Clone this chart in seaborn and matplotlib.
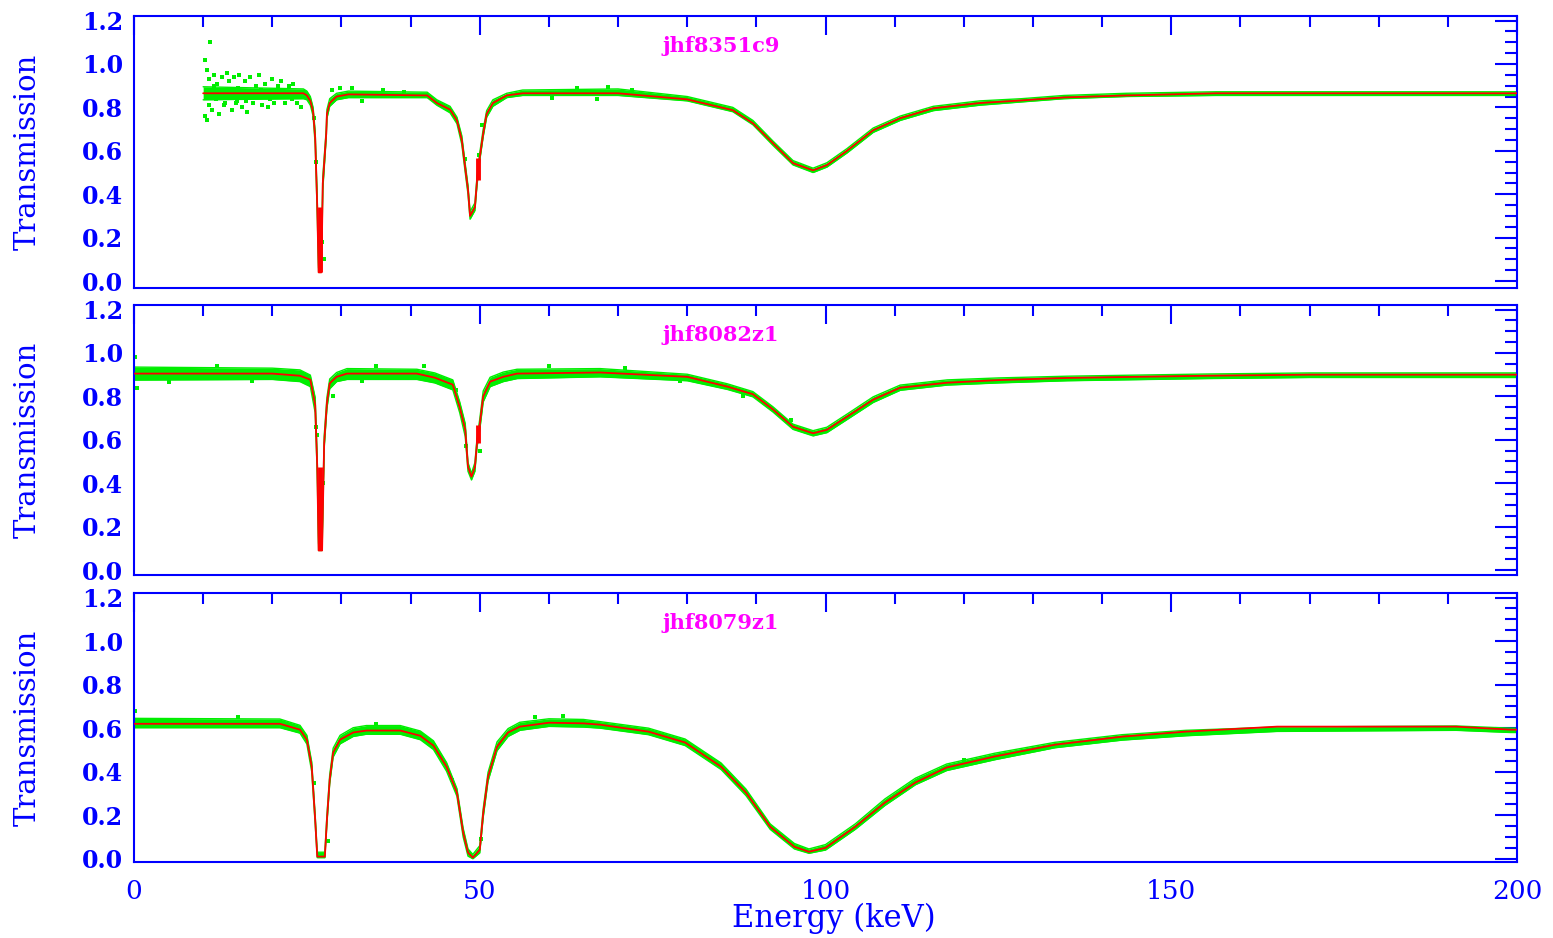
"""Transmission spectra of three samples with fitted curves (three stacked panels)."""

import matplotlib
matplotlib.use("Agg")
import matplotlib.pyplot as plt
from matplotlib.ticker import MultipleLocator
import seaborn as sns

BLUE = "#0000ff"
RED = "#ff0000"
GREEN = "#00ee00"
MAGENTA = "#ff00ff"

# ---- panel 1: jhf8351c9 -------------------------------------------------
name_1 = "jhf8351c9"
fit_e_1 = [10, 24.5, 25.0, 25.5, 25.9, 26.2, 26.5, 26.7, 27.1, 27.3, 27.8, 27.9, 28.3,
           29.3, 31.0, 42.4, 43.8, 45.7, 46.7, 47.4, 47.9, 48.3, 48.6, 49.3, 49.6, 50.0,
           50.5, 51.0, 51.9, 53.9, 56.2, 70.0, 80.0, 86.6, 89.5, 92.4, 95.3, 98.2, 100.2,
           103.1, 106.9, 110.8, 115.6, 122.3, 128.3, 134.5, 143.5, 156.5, 200]
fit_t_1 = [0.865, 0.865, 0.855, 0.83, 0.78, 0.66, 0.34, 0.04, 0.04, 0.45, 0.68, 0.77, 0.82,
           0.85, 0.86, 0.855, 0.82, 0.79, 0.74, 0.65, 0.52, 0.42, 0.30, 0.34, 0.46, 0.57,
           0.68, 0.77, 0.82, 0.855, 0.865, 0.865, 0.837, 0.787, 0.727, 0.635, 0.543, 0.51,
           0.534, 0.60, 0.695, 0.75, 0.796, 0.82, 0.832, 0.846, 0.855, 0.865, 0.865]
data_lo_1 = [0.835, 0.84, 0.835, 0.81, 0.76, 0.63, 0.31, 0.04, 0.04, 0.42, 0.66, 0.75, 0.805,
             0.835, 0.845, 0.845, 0.81, 0.775, 0.725, 0.63, 0.50, 0.40, 0.285, 0.325, 0.44, 0.555,
             0.665, 0.755, 0.805, 0.845, 0.855, 0.855, 0.83, 0.78, 0.72, 0.625, 0.535, 0.50,
             0.525, 0.59, 0.685, 0.74, 0.785, 0.81, 0.825, 0.84, 0.85, 0.855, 0.855]
data_hi_1 = [0.895, 0.885, 0.875, 0.85, 0.80, 0.69, 0.38, 0.06, 0.08, 0.48, 0.70, 0.79, 0.84,
             0.865, 0.875, 0.87, 0.835, 0.805, 0.755, 0.67, 0.54, 0.44, 0.32, 0.36, 0.48, 0.59,
             0.70, 0.785, 0.835, 0.865, 0.88, 0.885, 0.85, 0.80, 0.74, 0.645, 0.555, 0.52,
             0.545, 0.61, 0.705, 0.76, 0.805, 0.83, 0.84, 0.855, 0.865, 0.872, 0.872]
scat_e_1 = [10.2, 10.3, 10.5, 10.6, 10.8, 11.0, 11.3, 11.6, 12.0, 12.3, 12.7, 13.0, 13.4,
            13.8, 14.1, 14.5, 14.9, 15.2, 15.6, 16.0, 16.4, 16.8, 17.2, 17.7, 18.1, 18.5,
            19.0, 19.4, 19.9, 20.3, 20.8, 21.3, 21.8, 22.4, 23.0, 23.6, 24.2, 10.4, 10.9,
            11.8, 12.5, 13.2, 14.3, 15.0, 16.2, 17.0, 18.3, 19.6, 21.0, 22.8, 11.5, 14.7,
            26.0, 26.3, 27.2, 27.5, 28.6, 29.8, 31.5, 33.0, 36.0, 39.0, 47.8, 49.9, 50.3,
            64.0, 67.0, 72.0, 60.5, 68.5]
scat_t_1 = [1.02, 0.76, 0.97, 0.74, 0.93, 1.10, 0.79, 0.95, 0.91, 0.77, 0.94, 0.81, 0.96,
            0.92, 0.79, 0.94, 0.83, 0.95, 0.80, 0.92, 0.78, 0.94, 0.82, 0.90, 0.95, 0.81,
            0.91, 0.80, 0.93, 0.82, 0.90, 0.92, 0.82, 0.90, 0.91, 0.82, 0.80, 0.86, 0.81,
            0.84, 0.88, 0.82, 0.86, 0.89, 0.83, 0.87, 0.88, 0.84, 0.86, 0.84, 0.90, 0.82,
            0.75, 0.55, 0.18, 0.10, 0.88, 0.89, 0.89, 0.83, 0.88, 0.87, 0.56, 0.58, 0.72,
            0.89, 0.84, 0.88, 0.845, 0.895]
bar_e_1 = [26.9, 49.8]
bar_lo_1 = [0.04, 0.465]
bar_hi_1 = [0.34, 0.565]

# ---- panel 2: jhf8082z1 -------------------------------------------------
name_2 = "jhf8082z1"
fit_e_2 = [0, 20, 24.0, 25.5, 26.2, 26.5, 26.7, 27.2, 27.5, 27.9, 28.3, 29.3, 30.8, 40.9,
           43.5, 46.1, 47.1, 47.9, 48.3, 48.8, 49.3, 49.6, 50.0, 50.5, 51.5, 53.4, 55.4,
           67.4, 80.0, 85.8, 89.5, 92.4, 95.3, 98.2, 100.2, 103.1, 106.9, 110.8, 117.6,
           125, 135, 145, 155, 170, 200]
fit_t_2 = [0.905, 0.905, 0.895, 0.877, 0.76, 0.475, 0.09, 0.09, 0.585, 0.77, 0.86, 0.89,
           0.905, 0.905, 0.886, 0.854, 0.75, 0.646, 0.475, 0.43, 0.475, 0.585, 0.67, 0.80,
           0.868, 0.89, 0.905, 0.91, 0.89, 0.845, 0.81, 0.74, 0.66, 0.63, 0.646, 0.706,
           0.785, 0.84, 0.863, 0.875, 0.885, 0.89, 0.895, 0.90, 0.90]
data_lo_2 = [0.875, 0.878, 0.868, 0.845, 0.725, 0.44, 0.09, 0.09, 0.56, 0.745, 0.835, 0.868,
             0.878, 0.878, 0.862, 0.83, 0.725, 0.615, 0.455, 0.415, 0.455, 0.565, 0.645, 0.775,
             0.845, 0.868, 0.882, 0.89, 0.872, 0.832, 0.798, 0.728, 0.648, 0.618, 0.633, 0.693,
             0.772, 0.828, 0.852, 0.862, 0.872, 0.877, 0.882, 0.887, 0.887]
data_hi_2 = [0.935, 0.93, 0.922, 0.898, 0.795, 0.51, 0.12, 0.14, 0.615, 0.795, 0.88, 0.91,
             0.928, 0.925, 0.908, 0.876, 0.775, 0.675, 0.495, 0.445, 0.495, 0.605, 0.695, 0.825,
             0.888, 0.912, 0.925, 0.928, 0.902, 0.858, 0.822, 0.752, 0.672, 0.642, 0.658, 0.718,
             0.798, 0.852, 0.876, 0.885, 0.893, 0.898, 0.903, 0.908, 0.908]
scat_e_2 = [0.2, 0.4, 26.3, 26.4, 27.0, 27.0, 27.4, 28.8, 46.5, 48.0, 50.0, 88.0, 35.0,
            60.0, 12.0, 5.0, 17.0, 33.0, 42.0, 71.0, 79.0, 95.0]
scat_t_2 = [0.98, 0.84, 0.66, 0.62, 0.30, 0.22, 0.40, 0.80, 0.83, 0.57, 0.55, 0.80, 0.94,
            0.94, 0.94, 0.865, 0.87, 0.87, 0.94, 0.93, 0.87, 0.69]
bar_e_2 = [26.95, 49.8]
bar_lo_2 = [0.09, 0.585]
bar_hi_2 = [0.475, 0.67]

# ---- panel 3: jhf8079z1 -------------------------------------------------
name_3 = "jhf8079z1"
fit_e_3 = [0, 21.1, 24.0, 25.0, 25.7, 26.2, 26.5, 27.6, 27.9, 28.3, 28.8, 29.8, 31.7, 33.6,
           38.5, 41.4, 43.3, 45.2, 46.7, 47.6, 48.3, 49.0, 50.0, 50.5, 51.2, 52.5, 54.1,
           55.8, 60, 65, 67.4, 74.4, 79.7, 84.9, 88.5, 92.0, 95.5, 97.6, 100.0, 104.3,
           108.6, 113.0, 117.5, 124.5, 133.2, 142.9, 152.1, 165.3, 191.2, 199.1, 200]
fit_t_3 = [0.62, 0.62, 0.593, 0.547, 0.423, 0.18, 0.01, 0.01, 0.18, 0.363, 0.488, 0.547,
           0.58, 0.589, 0.589, 0.565, 0.52, 0.423, 0.304, 0.12, 0.028, 0.005, 0.041, 0.21,
           0.377, 0.515, 0.58, 0.607, 0.625, 0.622, 0.616, 0.584, 0.534, 0.423, 0.304,
           0.147, 0.055, 0.032, 0.05, 0.147, 0.258, 0.35, 0.419, 0.47, 0.524, 0.561, 0.584,
           0.607, 0.607, 0.593, 0.593]
data_lo_3 = [0.602, 0.602, 0.577, 0.527, 0.40, 0.16, 0.005, 0.005, 0.16, 0.345, 0.468, 0.528,
             0.562, 0.572, 0.572, 0.547, 0.502, 0.402, 0.287, 0.10, 0.012, 0.0, 0.027, 0.19,
             0.357, 0.497, 0.562, 0.59, 0.608, 0.605, 0.60, 0.57, 0.52, 0.41, 0.29, 0.135,
             0.045, 0.025, 0.04, 0.135, 0.245, 0.34, 0.405, 0.455, 0.51, 0.545, 0.565,
             0.585, 0.59, 0.58, 0.58]
data_hi_3 = [0.645, 0.642, 0.613, 0.567, 0.445, 0.20, 0.03, 0.03, 0.20, 0.385, 0.508, 0.567,
             0.602, 0.612, 0.612, 0.587, 0.542, 0.442, 0.322, 0.14, 0.045, 0.02, 0.06, 0.23,
             0.397, 0.537, 0.598, 0.627, 0.643, 0.64, 0.63, 0.60, 0.55, 0.44, 0.32, 0.16,
             0.07, 0.045, 0.065, 0.16, 0.275, 0.37, 0.435, 0.485, 0.535, 0.57, 0.59,
             0.605, 0.61, 0.60, 0.60]
scat_e_3 = [0.2, 0.4, 26.0, 28.0, 46.0, 50.2, 62.0, 120.0, 160.0, 15.0, 35.0, 58.0]
scat_t_3 = [0.68, 0.63, 0.35, 0.08, 0.36, 0.09, 0.655, 0.455, 0.585, 0.65, 0.62, 0.65]
bar_e_3 = []
bar_lo_3 = []
bar_hi_3 = []

panels = [
    (name_1, fit_e_1, fit_t_1, data_lo_1, data_hi_1, scat_e_1, scat_t_1, bar_e_1, bar_lo_1, bar_hi_1),
    (name_2, fit_e_2, fit_t_2, data_lo_2, data_hi_2, scat_e_2, scat_t_2, bar_e_2, bar_lo_2, bar_hi_2),
    (name_3, fit_e_3, fit_t_3, data_lo_3, data_hi_3, scat_e_3, scat_t_3, bar_e_3, bar_lo_3, bar_hi_3),
]

sns.set_style("white")
plt.rcParams["font.family"] = ["DejaVu Serif", "DejaVu Sans"]

fig = plt.figure(figsize=(15.53, 9.38), dpi=100)
W, H = 1553, 938
left, right = 134, 1517
frames = [(16, 288, -0.032), (305, 575, -0.023), (593, 862, -0.015)]

for i, ((name, fe, ft, lo, hi, se, st, be, blo, bhi), (top, bot, ymin)) in enumerate(zip(panels, frames)):
    ax = fig.add_axes([left / W, 1 - bot / H, (right - left) / W, (bot - top) / H])

    # measured data (green)
    ax.fill_between(fe, lo, hi, color=GREEN, lw=0, zorder=1)
    ax.plot(fe, lo, color=GREEN, lw=1.0, zorder=1)
    ax.plot(fe, hi, color=GREEN, lw=1.0, zorder=1)
    sns.scatterplot(x=se, y=st, ax=ax, color=GREEN, marker="s", s=10,
                    linewidth=0, zorder=2)

    # fit (red)
    sns.lineplot(x=fe, y=ft, ax=ax, color=RED, lw=1.3, estimator=None, sort=False, zorder=3)
    if be:
        ax.vlines(be, blo, bhi, color=RED, lw=3.5, zorder=3)

    ax.text(76.4, 1.085, name, color=MAGENTA, fontsize=15, fontweight="bold",
            va="center", ha="left")

    ax.set_xlim(0, 200)
    ax.xaxis.set_major_locator(MultipleLocator(50))
    ax.xaxis.set_minor_locator(MultipleLocator(10))
    ax.yaxis.set_major_locator(MultipleLocator(0.2))
    ax.yaxis.set_minor_locator(MultipleLocator(0.05))
    ax.tick_params(axis="both", which="both", direction="in", top=True, right=True,
                   color=BLUE, labelcolor=BLUE, width=1.5)
    ax.tick_params(axis="x", which="major", length=14, pad=12, labelsize=19)
    ax.tick_params(axis="x", which="minor", length=8)
    ax.tick_params(axis="y", which="major", length=16, pad=8, labelsize=17)
    ax.tick_params(axis="y", which="minor", length=9)
    ax.set_yticks([0.0, 0.2, 0.4, 0.6, 0.8, 1.0, 1.2])
    ax.set_yticklabels(["0.0", "0.2", "0.4", "0.6", "0.8", "1.0", "1.2"], fontweight="bold")
    ax.set_ylim(ymin, 1.221)
    for sp in ax.spines.values():
        sp.set_color(BLUE)
        sp.set_linewidth(1.5)

    ax.set_ylabel("Transmission", color=BLUE, fontsize=21)
    ax.yaxis.set_label_coords((42 - left) / (right - left), 0.5)
    if i < 2:
        ax.set_xticklabels([])
        ax.set_xlabel("")
    else:
        ax.set_xlabel("Energy (keV)", color=BLUE, fontsize=22)
        ax.xaxis.set_label_coords((834 - left) / (right - left), -(903 - bot) / (bot - top))

fig.savefig("out.png", dpi=100)
